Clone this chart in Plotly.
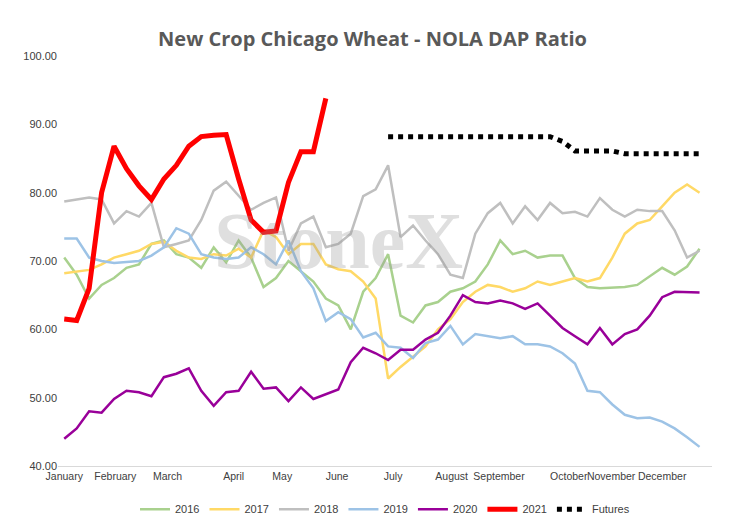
import plotly.graph_objects as go

# --- 1. Chart values (weekly ratios) ---
month_labels = ['January', 'February', 'March', 'April', 'May', 'June', 'July',
                'August', 'September', 'October', 'November', 'December']
month_weeks = [0, 4.1, 8.3, 13.6, 17.5, 21.9, 26.4, 31.1, 34.9, 40.5, 43.9, 48]

y2016 = [70.5, 68, 64.5, 66.5, 67.5, 69, 69.5, 72.5, 73, 71, 70.5, 69, 72, 69.8, 73, 70.5, 66.2,
         67.5, 70, 68.5, 67, 64.5, 63.5, 60, 65.5, 67.5, 71, 62, 61, 63.5, 64, 65.5, 66, 67, 69.5,
         73, 71, 71.5, 70.5, 70.8, 70.8, 67.5, 66.2, 66, 66.1, 66.2, 66.5, 67.8, 69, 68, 69.2, 71.8]
y2017 = [68.2, 68.5, 68.7, 69.5, 70.5, 71, 71.5, 72.5, 72.8, 71.5, 70.5, 70.3, 71, 70.8, 71.8,
         70.5, 74.5, 73.5, 71, 72.5, 72.5, 69.5, 68.8, 68.5, 67, 64.5, 52.8, 54.5, 56, 57.5, 60,
         61.5, 64, 65.5, 66.5, 66.2, 65.5, 66, 67, 66.5, 67, 67.5, 67, 67.5, 70.5, 74, 75.5, 76,
         78, 80, 81.2, 80]
y2018 = [78.7, 79, 79.3, 79, 75.5, 77.3, 76.5, 78.5, 72, 72.5, 73, 76, 80.3, 81.6, 79.5, 77.5,
         78.5, 79.3, 71.5, 75.5, 76.5, 72, 72.5, 74, 79.5, 80.5, 84, 73.5, 75.2, 73, 71, 68, 67.5,
         74, 77, 78.5, 75.5, 78, 76, 78.5, 77, 77.2, 76.5, 79.2, 77.5, 76.5, 77.5, 77.3, 77.3,
         74.5, 70.5, 71.5]
y2019 = [73.3, 73.3, 70.5, 70, 69.7, 69.8, 70, 70.8, 72, 74.8, 74, 71, 70.5, 70.3, 70.5, 72, 71,
         69.5, 73, 68.5, 66, 61.2, 62.5, 61.5, 58.8, 59.5, 57.5, 57.3, 55.8, 58, 58.5, 60.5, 57.8,
         59.3, 59, 58.7, 59, 57.8, 57.8, 57.5, 56.5, 55, 51, 50.8, 49, 47.5, 47, 47.1, 46.5, 45.5,
         44.2, 42.8]
y2020 = [44, 45.5, 48, 47.8, 49.8, 51, 50.8, 50.2, 53, 53.5, 54.3, 51, 48.8, 50.8, 51, 53.8, 51.3,
         51.5, 49.5, 51.5, 49.8, 50.5, 51.2, 55.2, 57.3, 56.5, 55.5, 57, 57, 58.5, 59.5, 62, 65, 64,
         63.8, 64.2, 63.8, 63, 63.8, 62, 60.2, 59, 57.8, 60.2, 57.8, 59.3, 60, 62, 64.7, 65.5,
         65.5, 65.4]
y2021 = [61.5, 61.3, 66, 80, 86.8, 83.5, 81, 79, 82, 84, 86.8, 88.2, 88.4, 88.5, 82, 76, 74.2,
         74.4, 81.5, 86, 86, 93.8]
futures = [88.2] * 14 + [87.5] + [86.1] * 4 + [85.7] * 7
futures_start = 26

# --- 2. Build the figure ---
fig = go.Figure()

series = [('2016', y2016, '#a9d18e', 2.5), ('2017', y2017, '#ffd966', 2.5),
          ('2018', y2018, '#bfbfbf', 2.5), ('2019', y2019, '#9dc3e6', 2.5),
          ('2020', y2020, '#990099', 2.5), ('2021', y2021, '#ff0000', 5)]
for name, ys, color, width in series:
    fig.add_trace(go.Scatter(x=list(range(len(ys))), y=ys, name=name, mode='lines',
                             line=dict(color=color, width=width)))

fig.add_trace(go.Scatter(x=list(range(futures_start, futures_start + len(futures))), y=futures,
                         name='Futures', mode='lines',
                         line=dict(color='black', width=5, dash='dot')))

# StoneX watermark
fig.add_annotation(text='<b>StoneX</b>', x=22, y=73, showarrow=False,
                   font=dict(size=80, color='rgba(150,150,150,0.3)', family='Liberation Serif'))

# --- 3. Layout ---
fig.update_layout(
    width=729, height=528,
    title=dict(text='<b>New Crop Chicago Wheat - NOLA DAP Ratio</b>', x=0.5, y=0.955,
               font=dict(size=20, color='#595959', family='Open Sans')),
    plot_bgcolor='white', paper_bgcolor='white',
    font=dict(family='Liberation Sans', size=11, color='#404040'),
    margin={"r": 25, "t": 48, "l": 50, "b": 62},
    legend=dict(orientation='h', x=0.5, xanchor='center', y=-0.07, yanchor='top',
                font=dict(size=11)),
    xaxis=dict(tickvals=month_weeks, ticktext=month_labels, range=[-0.5, 52],
               tickangle=0, tickfont=dict(size=10.5),
               showgrid=False, showline=True, linecolor='#d9d9d9', ticks=''),
    yaxis=dict(range=[40, 100], dtick=10, tickformat='.2f', showgrid=False,
               zeroline=False, showline=False),
)

fig.write_html("out.html")
